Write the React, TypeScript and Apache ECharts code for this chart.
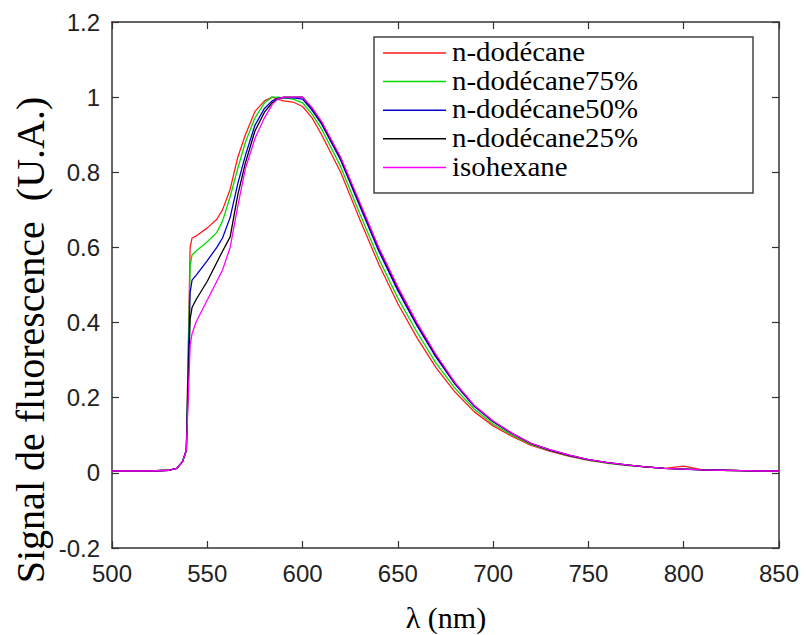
import React, { useEffect, useRef } from "react";
import * as echarts from "echarts";

const wavelengths = [500, 520, 530, 534, 537, 539, 541, 542, 544, 550, 555, 558, 562, 566, 570, 575, 580, 584, 587, 590, 595, 600, 605, 610, 620, 630, 640, 650, 660, 670, 680, 690, 700, 710, 720, 730, 740, 750, 760, 770, 780, 790, 800, 810, 820, 830, 840, 850];

const dodecane = [0.005, 0.005, 0.007, 0.012, 0.03, 0.06, 0.60, 0.625, 0.63, 0.652, 0.675, 0.70, 0.755, 0.84, 0.90, 0.962, 0.99, 1.0, 0.995, 0.99, 0.987, 0.975, 0.945, 0.90, 0.80, 0.675, 0.555, 0.45, 0.36, 0.28, 0.215, 0.163, 0.125, 0.097, 0.073, 0.057, 0.044, 0.033, 0.026, 0.02, 0.016, 0.012, 0.018, 0.008, 0.007, 0.006, 0.005, 0.005];
const dodecane75 = [0.005, 0.005, 0.007, 0.012, 0.03, 0.06, 0.55, 0.58, 0.59, 0.615, 0.64, 0.67, 0.735, 0.81, 0.88, 0.945, 0.985, 1.0, 1.0, 0.998, 0.995, 0.985, 0.955, 0.915, 0.815, 0.69, 0.57, 0.465, 0.375, 0.292, 0.225, 0.17, 0.13, 0.1, 0.075, 0.059, 0.045, 0.034, 0.026, 0.02, 0.016, 0.012, 0.01, 0.008, 0.007, 0.006, 0.005, 0.005];
const dodecane50 = [0.005, 0.005, 0.007, 0.012, 0.03, 0.06, 0.48, 0.513, 0.525, 0.565, 0.60, 0.625, 0.68, 0.77, 0.845, 0.925, 0.97, 0.99, 0.997, 0.998, 0.998, 0.995, 0.965, 0.928, 0.832, 0.71, 0.59, 0.485, 0.392, 0.308, 0.236, 0.177, 0.136, 0.104, 0.078, 0.06, 0.046, 0.035, 0.027, 0.021, 0.016, 0.012, 0.01, 0.008, 0.007, 0.006, 0.005, 0.005];
const dodecane25 = [0.005, 0.005, 0.007, 0.012, 0.03, 0.06, 0.41, 0.44, 0.46, 0.51, 0.56, 0.59, 0.628, 0.74, 0.825, 0.91, 0.96, 0.985, 0.995, 1.0, 1.0, 1.0, 0.97, 0.932, 0.837, 0.716, 0.597, 0.49, 0.397, 0.312, 0.238, 0.179, 0.137, 0.105, 0.078, 0.061, 0.047, 0.035, 0.027, 0.021, 0.016, 0.012, 0.01, 0.008, 0.007, 0.006, 0.005, 0.005];
const isohexane = [0.005, 0.005, 0.007, 0.012, 0.03, 0.06, 0.34, 0.37, 0.40, 0.46, 0.51, 0.54, 0.60, 0.71, 0.81, 0.89, 0.945, 0.98, 0.995, 1.0, 1.0, 1.0, 0.972, 0.935, 0.84, 0.72, 0.60, 0.495, 0.40, 0.315, 0.24, 0.18, 0.138, 0.105, 0.078, 0.061, 0.047, 0.035, 0.027, 0.021, 0.016, 0.012, 0.01, 0.008, 0.007, 0.006, 0.005, 0.005];

const seriesNames = ["n-dodécane", "n-dodécane75%", "n-dodécane50%", "n-dodécane25%", "isohexane"];
const seriesValues = [dodecane, dodecane75, dodecane50, dodecane25, isohexane];
const seriesColors = ["#ff1a1a", "#00dd00", "#0000cc", "#000000", "#ff00ff"];

const xTitle = "λ (nm)";
const yTitle = "Signal de fluorescence  (U.A.)";

const SERIF = "'Liberation Serif', 'Times New Roman', serif";
const SANS = "'Liberation Sans', Arial, sans-serif";

export default function App() {
  const ref = useRef<HTMLDivElement>(null);
  useEffect(() => {
    if (!ref.current) return;
    const chart = echarts.init(ref.current, null, { renderer: "svg" });
    const axisLine = { show: true, onZero: false, lineStyle: { color: "#333", width: 1.5 } };
    const tick = { show: true, inside: true, length: 7, lineStyle: { color: "#333", width: 1.2 } };
    const fmt = (v: number) => String(Math.round(v * 10) / 10);

    const legendX = 374;
    const legendY = 37;
    const rowGap = 28.6;
    const firstRow = 53;
    const legendItems: any[] = [
      {
        type: "rect",
        shape: { x: legendX, y: legendY, width: 379, height: 156 },
        style: { fill: "#ffffff", stroke: "#444", lineWidth: 1.5 },
        z: 100,
      },
    ];
    seriesNames.forEach((name, i) => {
      const y = firstRow + i * rowGap;
      legendItems.push({
        type: "line",
        shape: { x1: 383, y1: y, x2: 446, y2: y },
        style: { stroke: seriesColors[i], lineWidth: 1.5 },
        z: 101,
      });
      legendItems.push({
        type: "text",
        x: 452,
        y: y - 1,
        scaleX: 1.07,
        style: {
          text: name,
          fontFamily: SERIF,
          fontSize: 27,
          fill: "#000",
          align: "left",
          verticalAlign: "middle",
        },
        z: 101,
      });
    });

    chart.setOption({
      animation: false,
      backgroundColor: "#ffffff",
      grid: { left: 112, top: 22, width: 667, height: 526, containLabel: false },
      graphic: [
        ...legendItems,
        {
          type: "text",
          x: 30,
          y: 340,
          rotation: Math.PI / 2,
          style: {
            text: yTitle,
            fontFamily: SERIF,
            fontSize: 40,
            fill: "#000",
            align: "center",
            verticalAlign: "middle",
          },
        },
        {
          type: "text",
          x: 446,
          y: 617,
          style: {
            text: xTitle,
            fontFamily: SERIF,
            fontSize: 30,
            fill: "#000",
            align: "center",
            verticalAlign: "middle",
          },
        },
      ],
      xAxis: [
        {
          type: "value",
          min: 500,
          max: 850,
          interval: 50,
          axisLine,
          axisTick: tick,
          splitLine: { show: false },
          axisLabel: { fontFamily: SANS, fontSize: 24, color: "#222", margin: 13 },
        },
        {
          type: "value",
          position: "top",
          min: 500,
          max: 850,
          interval: 50,
          axisLine,
          axisTick: tick,
          axisLabel: { show: false },
          splitLine: { show: false },
        },
      ],
      yAxis: [
        {
          type: "value",
          min: -0.2,
          max: 1.2,
          interval: 0.2,
          axisLine,
          axisTick: tick,
          splitLine: { show: false },
          axisLabel: { fontFamily: SANS, fontSize: 24, color: "#222", margin: 12, formatter: fmt },
        },
        {
          type: "value",
          position: "right",
          min: -0.2,
          max: 1.2,
          interval: 0.2,
          axisLine,
          axisTick: tick,
          axisLabel: { show: false },
          splitLine: { show: false },
        },
      ],
      series: seriesNames.map((name, i) => ({
        name,
        type: "line",
        symbol: "none",
        xAxisIndex: 0,
        yAxisIndex: 0,
        color: seriesColors[i],
        lineStyle: { width: 1.3, color: seriesColors[i] },
        data: wavelengths.map((w, k) => [w, seriesValues[i][k]]),
      })),
    });
    return () => chart.dispose();
  }, []);
  return <div ref={ref} style={{ position: "fixed", left: 0, top: 0, width: 807, height: 635 }} />;
}
